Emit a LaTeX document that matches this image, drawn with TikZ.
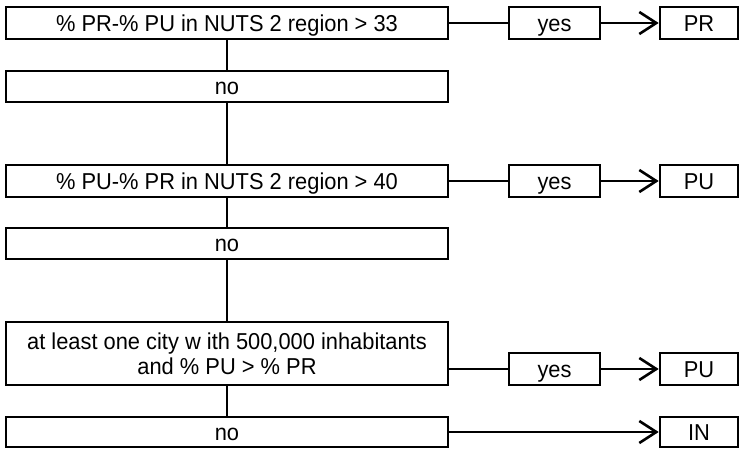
\documentclass[tikz,border=0pt]{standalone}
\usepackage{fontspec}
\setmainfont[FakeStretch=0.95]{Liberation Sans}
\usetikzlibrary{arrows.meta}
\begin{document}
\begin{tikzpicture}[x=1pt,y=-1pt,
  box/.style={draw=black,line width=2.6pt,minimum height=#1,inner sep=0pt,
    font=\fontsize{23}{25}\selectfont,text height=16.5pt,text depth=0pt},
  box/.default=32pt,
  tallbox/.style={draw=black,line width=2.6pt,minimum height=63pt,inner sep=0pt,
    font=\fontsize{23}{25}\selectfont,align=center},
  conn/.style={line width=2.6pt},
  arr/.style={line width=2.6pt,-{Straight Barb[length=17pt,width=22pt,line width=2.6pt]}}]
\useasboundingbox (0,0) rectangle (739,449);
% left column
\node[box=32pt,minimum width=442pt] (c1) at (227,23) {\% PR-\% PU in NUTS 2 region > 33};
\node[box=31pt,minimum width=442pt] (n1) at (227,86.5) {no};
\node[box=32pt,minimum width=442pt] (c2) at (227,181) {\% PU-\% PR in NUTS 2 region > 40};
\node[box=31pt,minimum width=442pt] (n2) at (227,243.5) {no};
\node[tallbox,minimum width=442pt] (c3) at (227,353.5) {at least one city w ith 500,000 inhabitants\\and \% PU > \% PR};
\node[box=30pt,minimum width=442pt] (n3) at (227,432) {no};
% yes boxes
\node[box=32pt,minimum width=91pt] (y1) at (554.5,23) {yes};
\node[box=32pt,minimum width=91pt] (y2) at (554.5,181) {yes};
\node[box=32pt,minimum width=91pt] (y3) at (554.5,369) {yes};
% results
\node[box=32pt,minimum width=78pt] (r1) at (699,23) {PR};
\node[box=32pt,minimum width=78pt] (r2) at (699,181) {PU};
\node[box=32pt,minimum width=78pt] (r3) at (699,369) {PU};
\node[box=30pt,minimum width=78pt] (r4) at (699,432) {IN};
% vertical connectors
\draw[conn] (c1.south) -- (n1.north);
\draw[conn] (n1.south) -- (c2.north);
\draw[conn] (c2.south) -- (n2.north);
\draw[conn] (n2.south) -- (c3.north);
\draw[conn] (c3.south) -- (n3.north);
% horizontal connectors
\draw[conn] (c1.east) -- (y1.west);
\draw[conn] (c2.east) -- (y2.west);
\draw[conn] (c3.east |- y3.west) -- (y3.west);
\draw[arr] (y1.east) -- (r1.west);
\draw[arr] (y2.east) -- (r2.west);
\draw[arr] (y3.east) -- (r3.west);
\draw[arr] (n3.east) -- (r4.west);
\end{tikzpicture}
\end{document}
